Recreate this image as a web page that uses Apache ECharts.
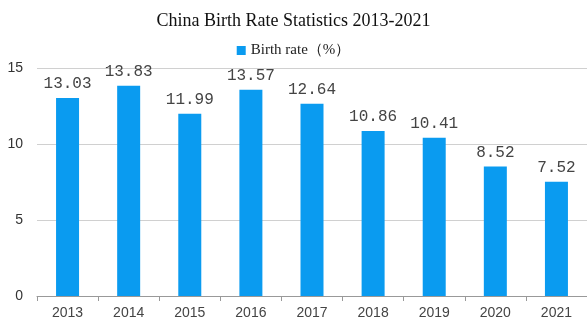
<!DOCTYPE html>
<html><head><meta charset="utf-8">
<script src="https://cdn.jsdelivr.net/npm/echarts@6/dist/echarts.min.js"></script>
<style>html,body{margin:0;padding:0;background:#fff}#c{width:587px;height:321px}</style>
</head><body><div id="c"></div>
<script>
var categories = ['2013','2014','2015','2016','2017','2018','2019','2020','2021'];
var birthRate = [13.03,13.83,11.99,13.57,12.64,10.86,10.41,8.52,7.52];
var yTicks = [0,5,10,15];
var chart = echarts.init(document.getElementById('c'));
chart.setOption({
  animation:false,
  backgroundColor:'#fff',
  title:{text:'China Birth Rate Statistics 2013-2021',left:'center',top:7,
    textStyle:{fontFamily:'Liberation Serif',fontSize:18,fontWeight:'normal',color:'#111'}},
  legend:{top:38,left:'center',itemWidth:9,itemHeight:9,icon:'rect',itemGap:8,
    textStyle:{fontFamily:'Liberation Serif',fontSize:15,color:'#222'},
    data:['Birth rate（%）']},
  grid:{left:37,right:-1,top:68,bottom:25},
  xAxis:{type:'category',data:categories,
    axisLine:{lineStyle:{color:'#999'}},
    axisTick:{show:true,lineStyle:{color:'#999'}},
    axisLabel:{fontFamily:'Liberation Sans',fontSize:14,color:'#444',margin:10}},
  yAxis:{type:'value',min:yTicks[0],max:yTicks[yTicks.length-1],interval:5,
    axisLine:{show:false},axisTick:{show:false},
    splitLine:{lineStyle:{color:'#d0d0d0'}},
    axisLabel:{fontFamily:'Liberation Sans',fontSize:14,color:'#333',margin:14}},
  series:[{name:'Birth rate（%）',type:'bar',data:birthRate,barWidth:23,
    itemStyle:{color:'#0a9bf0'},
    label:{show:true,position:'top',distance:6,fontFamily:'Liberation Mono',fontSize:16,color:'#444'}}]
});
</script></body></html>
